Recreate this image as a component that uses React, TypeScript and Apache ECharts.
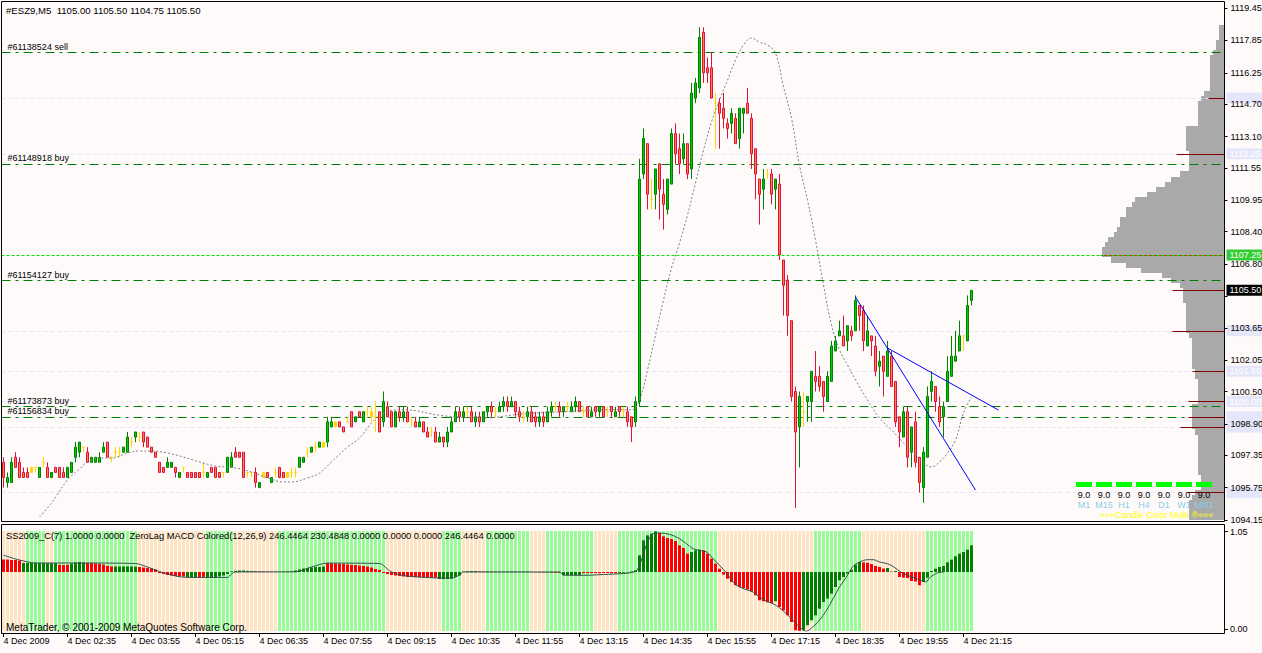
import React, { useEffect, useRef } from "react";
import * as echarts from "echarts";

const BG = "#FFFAFA";
const FONT = '"Liberation Sans", Arial, sans-serif';
const SYMBOL = "#ESZ9,M5";

// ---- M5 candles [open, high, low, close]; bar 0 = 4 Dec 01:15 ----
const CANDLES_A = [
  [1097.00,1097.25,1095.75,1096.25],[1096.00,1096.50,1095.75,1096.25],[1096.00,1097.25,1096.00,1097.00],[1097.25,1097.50,1096.75,1096.75],
  [1097.00,1097.25,1096.25,1096.25],[1096.50,1096.75,1096.25,1096.25],[1096.50,1096.75,1096.25,1096.25],[1096.75,1096.75,1096.50,1096.50],
  [1096.75,1096.75,1096.50,1096.75],[1096.25,1096.75,1096.25,1096.75],[1097.00,1097.25,1096.75,1097.00],[1096.75,1097.00,1096.25,1096.25],
  [1096.25,1096.50,1096.25,1096.50],[1096.75,1096.75,1096.50,1096.50],[1096.75,1096.75,1096.25,1096.25],[1096.50,1096.75,1096.25,1096.25],
  [1096.25,1096.75,1096.25,1096.75],[1096.50,1097.00,1096.50,1097.00],[1097.25,1098.00,1097.00,1097.75],[1097.50,1098.00,1097.25,1098.00],
  [1097.75,1097.75,1097.50,1097.75],[1097.50,1097.75,1097.00,1097.00],[1097.00,1097.25,1097.00,1097.25],[1097.00,1097.25,1097.00,1097.25],
  [1097.00,1097.50,1097.00,1097.25],[1097.50,1098.00,1097.50,1097.75],[1098.00,1098.00,1097.25,1097.25],[1097.25,1097.25,1097.00,1097.25],
  [1097.50,1097.75,1097.25,1097.50],[1097.50,1097.75,1097.25,1097.50],[1097.50,1097.75,1097.50,1097.75],[1097.50,1098.50,1097.50,1098.25],
  [1098.00,1098.25,1097.75,1098.00],[1098.25,1098.50,1098.00,1098.50],[1098.25,1098.50,1098.00,1098.25],[1098.50,1098.50,1097.75,1098.00],
  [1098.25,1098.25,1097.75,1097.75],[1097.75,1097.75,1097.50,1097.50],[1097.50,1097.50,1097.25,1097.25],[1097.00,1097.00,1096.50,1096.50],
  [1096.75,1096.75,1096.50,1096.50],[1096.75,1097.25,1096.75,1097.00],[1096.75,1097.00,1096.75,1097.00],[1096.75,1096.75,1096.25,1096.50],
  [1096.25,1096.50,1096.25,1096.50],[1096.75,1096.75,1096.50,1096.75],[1096.50,1096.50,1096.25,1096.25],[1096.50,1096.50,1096.25,1096.25],
  [1096.50,1096.50,1096.25,1096.25],[1096.50,1096.50,1096.25,1096.25],[1096.50,1097.00,1096.25,1096.50],[1096.25,1096.50,1096.25,1096.50],
  [1096.75,1096.75,1096.50,1096.50],[1096.75,1096.75,1096.25,1096.25],[1096.50,1096.50,1096.25,1096.25],[1096.50,1096.50,1096.25,1096.50],
  [1096.50,1097.25,1096.50,1097.25],[1096.75,1097.50,1096.75,1097.25],[1097.50,1097.75,1097.25,1097.25],[1097.50,1097.50,1097.25,1097.25],
  [1097.50,1097.50,1096.25,1096.25],[1096.50,1096.50,1096.25,1096.50],[1096.50,1096.50,1096.25,1096.50],[1096.50,1096.75,1095.75,1096.00],
  [1095.75,1096.00,1095.75,1096.00],[1096.50,1096.50,1096.25,1096.25],[1096.50,1096.50,1096.25,1096.25],[1096.00,1096.25,1096.00,1096.25],
  [1096.50,1096.75,1096.25,1096.50],[1096.75,1096.75,1096.25,1096.25],[1096.50,1096.50,1096.25,1096.25],[1096.50,1096.50,1096.25,1096.25],
  [1096.50,1096.75,1096.25,1096.50],[1096.50,1096.75,1096.25,1096.50],[1096.75,1097.25,1096.75,1097.25],[1097.00,1097.25,1097.00,1097.25],
  [1097.50,1097.75,1097.25,1097.50],[1097.50,1097.75,1097.50,1097.75],[1097.75,1098.00,1097.50,1097.75],[1097.75,1098.00,1097.75,1098.00],
  [1097.75,1098.00,1097.75,1098.00],[1098.00,1099.25,1097.75,1099.00],[1098.75,1099.25,1098.75,1099.00],[1099.00,1099.00,1098.75,1098.75],
  [1099.00,1099.00,1098.75,1098.75],[1098.75,1098.75,1098.50,1098.50],[1099.00,1099.25,1099.00,1099.00],[1099.50,1099.50,1098.75,1098.75],
  [1099.00,1099.25,1099.00,1099.25],[1099.50,1099.50,1099.25,1099.25],[1099.00,1099.50,1099.00,1099.50],[1099.50,1099.75,1099.25,1099.50],
  [1099.50,1099.75,1099.00,1099.25],[1099.25,1100.00,1098.50,1099.25],[1099.50,1099.50,1098.50,1098.50],[1099.00,1100.50,1098.75,1100.00],
  [1099.75,1100.00,1099.25,1099.25],[1099.50,1099.50,1098.75,1098.75],[1098.75,1099.50,1098.75,1099.50],
];
const CANDLES_B = [
  [1099.50,1099.75,1099.00,1099.25],[1099.25,1099.75,1099.00,1099.50],[1099.50,1099.75,1099.00,1099.00],[1099.00,1099.25,1098.75,1099.00],
  [1099.00,1099.25,1098.75,1098.75],[1098.75,1099.25,1098.75,1099.00],[1099.00,1099.00,1098.50,1098.50],[1098.50,1098.75,1098.25,1098.25],
  [1098.50,1098.75,1098.25,1098.50],[1098.50,1098.75,1098.00,1098.00],[1098.00,1098.50,1098.00,1098.25],[1098.25,1098.25,1097.75,1098.00],
  [1098.00,1098.75,1097.75,1098.50],[1098.50,1099.25,1098.50,1099.00],[1099.00,1099.75,1099.00,1099.50],[1099.50,1099.75,1099.00,1099.25],
  [1099.25,1099.75,1099.00,1099.50],[1099.50,1099.75,1099.25,1099.50],[1099.50,1099.75,1099.00,1099.00],[1099.00,1099.50,1098.75,1099.25],
  [1099.25,1099.50,1098.75,1099.00],[1099.00,1099.50,1099.00,1099.50],[1099.50,1099.75,1099.25,1099.75],[1099.75,1100.00,1099.25,1099.50],
  [1099.50,1099.75,1099.25,1099.50],[1099.50,1100.00,1099.50,1099.75],[1099.75,1100.25,1099.50,1100.00],[1100.00,1100.25,1099.50,1099.75],
  [1099.75,1100.25,1099.75,1100.00],[1100.00,1100.00,1099.25,1099.50],[1099.50,1099.75,1099.00,1099.25],[1099.25,1099.50,1099.00,1099.25],
  [1099.25,1099.75,1099.00,1099.50],[1099.50,1099.75,1099.00,1099.00],[1099.25,1099.50,1098.75,1099.00],[1099.00,1099.50,1098.75,1099.25],
  [1099.25,1099.50,1098.75,1099.00],[1099.00,1099.75,1099.00,1099.50],[1099.50,1100.00,1099.25,1099.75],[1099.75,1100.00,1099.50,1099.75],
  [1099.75,1100.00,1099.25,1099.50],[1099.50,1099.75,1099.25,1099.75],[1099.75,1100.00,1099.50,1099.75],[1099.50,1100.00,1099.50,1099.75],
  [1099.75,1100.25,1099.50,1100.00],[1100.00,1100.00,1099.50,1099.50],[1099.50,1099.75,1099.25,1099.50],[1099.75,1099.75,1099.25,1099.25],
  [1099.25,1099.75,1099.25,1099.50],[1099.75,1099.75,1099.25,1099.50],[1099.50,1099.75,1099.25,1099.75],[1099.75,1099.75,1099.25,1099.25],
  [1099.50,1099.75,1099.25,1099.50],[1099.75,1099.75,1099.25,1099.50],[1099.25,1099.75,1099.25,1099.50],[1099.75,1099.75,1099.25,1099.50],
  [1099.50,1099.75,1099.25,1099.50],[1099.50,1099.75,1098.75,1099.00],[1099.25,1099.25,1098.00,1098.75],[1099.00,1100.25,1098.75,1100.00],
];
const CANDLES_C = [
  [1100.00,1112.00,1099.75,1111.00],[1111.25,1113.50,1111.00,1113.00],[1112.75,1112.75,1109.50,1110.25],[1110.00,1111.00,1109.50,1110.00],
  [1110.25,1111.50,1109.50,1111.50],[1111.75,1111.75,1109.00,1110.50],[1110.25,1111.00,1108.50,1109.75],[1109.50,1111.00,1109.25,1111.00],
  [1110.75,1113.50,1110.75,1113.25],[1113.25,1113.75,1111.75,1112.25],[1112.50,1113.25,1111.25,1111.75],[1112.00,1113.25,1111.75,1112.75],
  [1112.75,1112.75,1111.00,1111.25],[1111.50,1115.75,1111.00,1115.25],[1115.00,1116.00,1114.75,1115.75],[1115.50,1118.50,1115.25,1118.00],
  [1118.25,1118.50,1115.75,1116.25],[1116.50,1117.00,1115.75,1116.25],[1116.50,1117.25,1115.00,1115.00],[1114.75,1115.25,1112.50,1114.75],
  [1114.75,1115.00,1112.50,1114.25],[1114.50,1115.25,1113.50,1114.00],[1113.75,1114.00,1113.00,1113.50],[1113.75,1114.50,1113.25,1114.25],
  [1114.00,1114.25,1112.75,1112.75],[1113.00,1114.50,1112.50,1114.50],[1114.25,1114.50,1113.25,1114.50],[1114.75,1115.50,1114.25,1114.25],
  [1114.00,1114.25,1111.50,1112.25],[1112.50,1112.50,1110.00,1111.25],[1111.00,1111.00,1108.75,1110.25],[1110.50,1111.50,1109.50,1111.00],
  [1111.25,1111.50,1111.00,1111.25],[1111.25,1111.50,1109.75,1110.25],[1110.50,1111.00,1109.50,1111.00],[1110.75,1111.25,1107.00,1107.25],
  [1107.00,1107.00,1104.25,1105.75],[1106.00,1106.25,1103.25,1104.25],[1104.00,1104.00,1100.00,1100.25],[1100.50,1100.75,1094.75,1098.50],
  [1098.75,1100.50,1096.75,1100.25],[1099.50,1100.50,1098.75,1099.50],[1100.00,1100.25,1099.00,1100.25],[1100.00,1101.50,1099.00,1101.50],
  [1101.25,1102.50,1100.50,1101.00],[1101.25,1101.75,1100.50,1100.75],[1101.00,1101.00,1099.50,1100.25],[1100.00,1101.50,1100.00,1101.25],
  [1101.00,1103.00,1101.00,1102.75],[1102.50,1103.25,1102.50,1103.00],[1103.25,1104.00,1103.25,1103.50],[1103.25,1104.25,1102.75,1102.75],
  [1103.00,1103.75,1102.50,1103.75],[1103.50,1103.75,1103.00,1103.25],[1103.50,1105.25,1103.50,1105.00],[1104.75,1104.75,1103.50,1104.25],
  [1104.50,1104.75,1102.50,1103.00],[1102.75,1104.25,1102.75,1103.50],[1103.25,1103.25,1102.25,1103.00],[1102.75,1103.25,1101.25,1101.50],
  [1101.75,1102.50,1100.75,1102.00],[1102.25,1102.25,1100.25,1101.50],[1101.25,1103.00,1101.25,1102.50],[1102.25,1102.50,1100.75,1100.75],
  [1101.00,1101.00,1098.75,1099.00],[1099.25,1099.25,1097.75,1098.50],[1098.25,1099.75,1098.25,1099.50],[1099.50,1099.75,1096.75,1097.25],
  [1097.50,1098.75,1096.75,1098.75],[1099.00,1099.50,1096.75,1097.00],[1097.25,1097.25,1095.50,1096.00],[1095.75,1097.75,1095.00,1097.50],
  [1097.25,1100.75,1097.25,1100.25],[1100.50,1101.50,1100.00,1101.00],[1100.75,1100.75,1099.50,1100.00],[1099.75,1100.25,1098.75,1099.00],
  [1099.25,1100.00,1098.25,1099.75],[1100.00,1102.25,1100.00,1101.50],[1101.25,1103.25,1101.25,1102.25],[1102.00,1103.50,1102.00,1102.25],
  [1102.50,1104.00,1102.50,1103.25],[1103.25,1103.25,1102.50,1103.25],[1103.00,1105.25,1103.00,1104.75],[1105.00,1105.50,1104.75,1105.50],
];
// bars painted yellow (neutral) by the candle colouring indicator
const NEUTRAL_BARS = [7,8,10,20,27,28,29,32,34,45,50,55,61,62,65,68,71,72,73,76,78,80,83,86,91,92,93,102,107,116,123,130,138,141,145,151,155,162,178,191,200,240];

// dashed moving-average curve [bar, price]
const MA_CURVE = [
  [9,1094.30],[12,1094.99],[16,1096.13],[19,1096.67],[21,1097.02],[24,1097.21],[27,1097.21],[31,1097.46],[34,1097.56],[37,1097.56],
  [41,1097.46],[45,1097.26],[49,1097.02],[53,1096.82],[58,1096.72],[62,1096.52],[66,1096.23],[70,1096.03],[72,1096.03],[76,1096.23],
  [79,1096.47],[82,1097.02],[86,1097.76],[89,1098.20],[92,1098.94],[95,1099.44],[100,1099.60],[110,1099.30],[120,1099.20],[130,1099.40],
  [140,1099.50],[150,1099.60],[157,1099.60],[159,1100.08],[161,1101.56],[163,1103.29],[165,1105.02],[167,1106.60],[169,1107.84],[171,1109.22],
  [173,1110.80],[175,1112.43],[177,1113.82],[179,1114.90],[181,1115.89],[183,1116.88],[185,1117.62],[187,1117.97],[189,1117.77],[191,1117.62],
  [193,1117.23],[195,1115.55],[197,1114.01],[199,1111.69],[201,1109.96],[203,1107.98],[205,1105.76],[207,1103.79],[209,1102.55],[211,1101.81],
  [213,1101.07],[216,1100.08],[219,1099.19],[222,1098.60],[225,1097.96],[228,1097.36],[230,1096.97],[232,1096.77],[234,1097.02],[236,1097.46],
  [238,1098.10],[240,1099.44],[242,1100.23],
];
// blue trend lines [bar, price] pairs
const TREND_LINES = [
  [[213, 1105.17], [243, 1095.63]],
  [[221, 1102.65], [248.75, 1099.58]],
];

// order lines
const ORDER_LEVELS = [1117.25, 1111.75, 1106.00, 1099.75, 1099.25];
const ORDER_LABELS = ["#61138524 sell", "#61148918 buy", "#61154127 buy", "#61173873 buy", "#61156834 buy"];
// lavender level lines
const LEVELS = [1115.00, 1112.25, 1103.50, 1101.50, 1100.00, 1099.25, 1098.75, 1095.50];
// dark-red level marks [price, start bar]
const LEVEL_MARKS = [[1115.00, 301.25], [1112.25, 293.25], [1105.50, 292.25], [1103.50, 292.25], [1101.50, 297.25], [1100.00, 296.25], [1099.25, 296.25], [1098.75, 294.25], [1095.50, 296.0]];
const RED_LEVEL = [1107.25, 274.25];
const BID = 1105.50;

// right price axis ticks
const PRICE_TICKS = [1094.15,1095.75,1097.35,1098.90,1100.50,1102.05,1103.65,1105.20,1106.80,1108.40,1109.95,1111.55,1113.10,1114.70,1116.25,1117.85,1119.45];
// time axis
const TIME_TICK_BARS = [0,16,32,48,64,80,96,112,128,144,160,176,192,208,224,240];
const TIME_LABELS = ["4 Dec 2009","4 Dec 02:35","4 Dec 03:55","4 Dec 05:15","4 Dec 06:35","4 Dec 07:55","4 Dec 09:15","4 Dec 10:35","4 Dec 11:55","4 Dec 13:15","4 Dec 14:35","4 Dec 15:55","4 Dec 17:15","4 Dec 18:35","4 Dec 19:55","4 Dec 21:15"];

// volume profile (counts per 0.25 row, from top price downward)
const PROFILE_TOP = 1118.50;
const PROFILE_STEP = 0.25;
const PROFILE_COUNTS = [
  2,2,2,3,3,4,5,5,5,5,5,5,5,7,8,9,9,9,9,9,13,13,13,13,13,12,12,12,12,15,18,20,23,26,30,31,33,33,35,35,36,37,39,40,41,41,38,33,28,21,
  18,15,14,14,14,13,13,13,13,13,13,12,11,11,11,11,11,11,10,10,9,9,9,9,9,11,11,11,11,11,10,9,9,9,9,9,9,9,9,8,8,8,10,11,12,12,12,12,
];

// SS2009_C(7) state runs: [bars, state]  (g = up / pale green, b = down / bisque)
const SS_RUNS = [[6,"b"],[5,"g"],[2,"b"],[21,"g"],[17,"b"],[7,"g"],[11,"b"],[27,"g"],[14,"b"],[5,"g"],[6,"b"],[11,"g"],[4,"b"],[12,"g"],[6,"b"],[25,"g"],[24,"b"],[12,"g"],[16,"b"],[12,"g"]];

// ZeroLag MACD histogram values per bar
const MACD_HIST = [
  1.25,1.25,1.2,1.2,1.15, 0.9,0.9,0.92,0.92,0.9,0.9,0.88,0.88,0.88, 0.72,0.7,0.72, 0.85,0.95,1.0,0.95,
  0.9,0.9,0.85,0.8,0.75,0.62,0.55, 0.55,0.55,0.55,0.56,0.55,0.54, 0.5,0.45,0.4,0.33,0.25,
  -0.1,-0.2,-0.3,-0.35,-0.4,-0.42,-0.45, -0.5,-0.52,-0.5, -0.5,-0.48, -0.55,-0.55,-0.5,-0.45,-0.35,-0.2,
  0.08,0.12,0.15,0.15,0.12,0.1, 0.08,0.06,0.05,0.04,0.02,0.03,0.02,0.02,0.04,0.05,
  0.15,0.25,0.35,0.4,0.45,0.5,0.5,0.55, 0.9,0.88,0.85,0.82,0.8,0.75,0.72,0.7,0.65,0.6,0.55,0.45,0.3,0.2,
  -0.1,-0.2,-0.3,-0.35,-0.4,-0.45,-0.5,-0.5,-0.52,-0.54,-0.54,-0.55,-0.55,-0.56, -0.7,-0.71,-0.7,-0.65,-0.5,-0.35,
  0.05,0.08,0.1,0.1, 0.06,0.05,0.06,0.04,0.05,0.04,0.03,0.05,0.06,0.04,0.03,0.04,0.05,0.03,-0.02,-0.04,-0.05,-0.04,-0.06,-0.08,-0.1,
  -0.33,-0.33,-0.32,-0.3,-0.3, -0.12,-0.12,-0.1,-0.1,-0.12,-0.1,-0.1,-0.12,-0.1, -0.1,-0.08,-0.05,0.05,0.17,
  1.67,3.17,3.67,3.83,4.07, 3.9,3.57,3.4,3.3,3.1,2.67,2.4,1.83, 2.0,2.17,2.23,
  2.17,1.83,1.33,0.83,0.33,-0.27,-0.67,-1.0,-1.33,-1.5,-1.6,-1.73,-1.93,-2.33,-2.83,-2.93,-3.03,-3.1, -2.93,
  -3.5,-3.83,-4.33,-5.0,-5.83,-5.88, -5.83,-5.33,-4.83,-4.33,-3.67,-3.0,-2.67,-2.17,-1.5,-0.83,-0.5,-0.17,0.23,0.73,1.0,
  0.97,0.93,0.8,0.6,0.5,0.35, 0.4, 0.05, 0.1, -0.5,-0.57,-0.6,-0.9,-0.95,-1.33,
  -1.0,-0.57,0.1,0.33,0.5,0.6,0.97,1.23,1.57,1.83,2.0,2.23,2.67,
];
// histogram colour runs: [bars, g|r]
const MACD_COLOR_RUNS = [[5,"r"],[9,"g"],[3,"r"],[4,"g"],[7,"r"],[6,"g"],[12,"r"],[3,"g"],[2,"r"],[12,"g"],[2,"r"],[1,"g"],[2,"r"],[1,"g"],[2,"r"],[10,"g"],[28,"r"],[10,"g"],[2,"r"],[1,"g"],[1,"r"],[1,"g"],[2,"r"],[2,"g"],[2,"r"],[2,"g"],[4,"r"],[1,"g"],[3,"r"],[5,"g"],[9,"r"],[10,"g"],[8,"r"],[3,"g"],[18,"r"],[1,"g"],[6,"r"],[15,"g"],[6,"r"],[1,"g"],[1,"r"],[1,"g"],[6,"r"],[13,"g"]];
// signal line [bar, value]
const MACD_SIGNAL = [
  [0,1.68],[4,1.2],[8,0.9],[20,0.9],[33,0.85],[36,0.5],[39,0.05],[43,-0.4],[46,-0.54],[56,-0.54],[57,-0.2],[58,0],[73,0.02],[77,0.5],[81,0.89],
  [94,0.85],[96,0.3],[97,0],[100,-0.35],[104,-0.5],[109,-0.6],[112,-0.6],[114,-0.3],[115,0],[139,0],[140,-0.3],[145,-0.33],[150,-0.25],[155,-0.15],
  [157,-0.05],[158.4,0.17],[160,1.8],[161,3.0],[162.4,3.83],[164,3.9],[166.5,3.77],[169,3.33],[170.75,2.83],[172.4,2.33],[174,2.17],[175.75,2.0],
  [177.4,1.33],[179,0.67],[180.75,-0.1],[182.4,-1.0],[184,-1.5],[185.75,-1.77],[187.4,-2.0],[189,-2.5],[190.75,-2.93],[192.4,-3.17],[194,-3.57],
  [195.7,-4.17],[197.4,-4.83],[199,-5.5],[200.7,-5.93],[202.3,-5.5],[204,-4.83],[205.75,-3.83],[207.4,-2.67],[209,-1.5],[210.75,-0.5],[212.25,0.5],
  [214,1.0],[216,1.23],[217.5,1.23],[219,1.0],[221,0.83],[222.6,0.5],[224.3,0],[226,-0.33],[227.6,-0.57],[229.3,-0.83],[230.5,-1.0],[231.75,-0.5],
  [233.4,-0.1],[235,0],
];

// multi-timeframe panel
const TF_NAMES = ["M1", "M15", "H1", "H4", "D1", "W1", "MN1"];
const TF_VALUES = ["9.0", "9.0", "9.0", "9.0", "9.0", "9.0", "9.0"];

const SUB_TITLE = "SS2009_C(7) 1.0000 0.0000  ZeroLag MACD Colored(12,26,9) 246.4464 230.4848 0.0000 0.0000 0.0000 246.4464 0.0000";
const COPYRIGHT = "MetaTrader, \u00A9 2001-2009 MetaQuotes Software Corp.";

// ---- axes ranges ----
const X_MIN = -0.5, X_MAX = 305.25;
const Y_MIN = 1094.10, Y_MAX = 1119.75;

const BULL_FILL = "#00CC00", BULL_BORDER = "#008000";
const BEAR_FILL = "#FF8040", BEAR_BORDER = "#E0103C";
const NEUTRAL = "#FFD700";

function expandRuns(runs: any[]) {
  const out: string[] = [];
  runs.forEach(([n, s]) => { for (let i = 0; i < n; i++) out.push(s); });
  return out;
}

// does a tick label sit on top of this level's price box?
const coveredByTick = (p: number) => PRICE_TICKS.some((t) => Math.abs(t - p) < 0.4);

function buildOption() {
  const candles = [...CANDLES_A, ...CANDLES_B, ...CANDLES_C];
  const last = candles[candles.length - 1];
  const candleData = candles.map(([o, h, l, c], i) => {
    const item: any = { value: [i, o, c, l, h] };
    if (NEUTRAL_BARS.includes(i)) item.itemStyle = { color: NEUTRAL, color0: NEUTRAL, borderColor: NEUTRAL, borderColor0: NEUTRAL };
    return item;
  });
  const ssStates = expandRuns(SS_RUNS);
  const ssData = ssStates.map((s, i) => ({ value: [i, 1], itemStyle: { color: s === "g" ? "#98FB98" : "#FFE4C4" } }));
  const macdColors = expandRuns(MACD_COLOR_RUNS);
  const macdData = MACD_HIST.map((v, i) => ({ value: [i, v], itemStyle: { color: macdColors[i] === "g" ? "#008000" : "#FF0000" } }));
  const profileData = PROFILE_COUNTS.map((c, i) => [c, PROFILE_TOP - i * PROFILE_STEP]);
  const labelTicks = PRICE_TICKS.filter((t) => Math.abs(t - BID) > 0.35);

  const lbl = { fontSize: 9, fontFamily: FONT };
  const boxLabel = (text: string, bg: string) => ({
    show: true, position: "end", formatter: text, color: "#FFFFFF", backgroundColor: bg,
    padding: [1, 3, 1, 3], distance: 2, ...lbl,
  });
  const emptyBox = (bg: string) => ({
    show: true, position: "end", formatter: "\u00A0", width: 31, color: bg, backgroundColor: bg,
    padding: [1, 3, 1, 3], distance: 2, ...lbl,
  });

  const baseMarks: any[] = [];
  LEVELS.forEach((p) => baseMarks.push({
    yAxis: p, lineStyle: { color: "#E6E6FA", type: [4, 3], width: 1 },
    label: coveredByTick(p) ? emptyBox("#E6E6FA") : boxLabel(p.toFixed(2), "#E6E6FA"),
  }));
  ORDER_LEVELS.forEach((p, i) => baseMarks.push({
    yAxis: p, lineStyle: { color: "#008000", type: [9, 5, 3, 5], width: 1 },
    label: { show: true, position: "insideStartTop", formatter: ORDER_LABELS[i], color: "#000", distance: [6, 1], ...lbl },
  }));
  LEVEL_MARKS.forEach(([p, s]) => baseMarks.push([
    { coord: [s, p], lineStyle: { color: "#800000", type: "solid", width: 1 }, label: { show: false } },
    { coord: [X_MAX, p] },
  ]));
  baseMarks.push([
    { coord: [RED_LEVEL[1], RED_LEVEL[0]], lineStyle: { color: "#FF0000", type: "solid", width: 1 }, label: { show: false } },
    { coord: [X_MAX, RED_LEVEL[0]] },
  ]);

  const topMarks: any[] = [
    { yAxis: RED_LEVEL[0], lineStyle: { color: "#00E000", type: [3, 2], width: 1 }, label: boxLabel(RED_LEVEL[0].toFixed(2), "#32CD32") },
    { yAxis: BID, lineStyle: { color: "rgba(0,0,0,0)", width: 1, type: "solid" }, label: boxLabel(BID.toFixed(2), "#000000") },
  ];

  const txt = (x: number, y: number, text: string, fill = "#000", align = "left", size = 9) => ({
    type: "text", x, y, silent: true, z: 100,
    style: { text, fill, font: `${size}px ${FONT}`, align, verticalAlign: "middle" },
  });
  const graphics: any[] = [
    { type: "rect", silent: true, z: 100, shape: { x: 1.5, y: 1.5, width: 1223, height: 520 }, style: { fill: "none", stroke: "#000", lineWidth: 1 } },
    { type: "rect", silent: true, z: 100, shape: { x: 1.5, y: 524.5, width: 1223, height: 109 }, style: { fill: "none", stroke: "#000", lineWidth: 1 } },
    { type: "line", silent: true, z: 100, shape: { x1: 1225, y1: 531.5, x2: 1228, y2: 531.5 }, style: { stroke: "#000", lineWidth: 1 } },
    { type: "line", silent: true, z: 100, shape: { x1: 1225, y1: 629.5, x2: 1228, y2: 629.5 }, style: { stroke: "#000", lineWidth: 1 } },
    txt(6, 10, `${SYMBOL}  ${last[0].toFixed(2)} ${last[1].toFixed(2)} ${last[2].toFixed(2)} ${last[3].toFixed(2)}`, "#000", "left", 9.6),
    txt(6, 536, SUB_TITLE, "#000", "left", 9.3),
    txt(6, 627, COPYRIGHT, "#000", "left", 10),
    txt(1230, 532, "1.05"),
    txt(1230, 629, "0.00"),
  ];
  TF_NAMES.forEach((name, i) => {
    const x0 = 1076 + i * 20;
    graphics.push({ type: "rect", silent: true, z: 100, shape: { x: x0, y: 482, width: 16, height: 5 }, style: { fill: "#00FF00" } });
    graphics.push(txt(x0 + 8, 495, TF_VALUES[i], "#000", "center"));
    graphics.push(txt(x0 + 8, 505, name, "#87CEEB", "center"));
  });
  graphics.push(txt(1100, 515, "\u00BB\u00BB\u00BBCandle Color Multi \u00AE\u00AB\u00AB\u00AB", "#FFFF00"));

  const noAxis = { axisLine: { show: false, onZero: false }, axisTick: { show: false }, axisLabel: { show: false }, splitLine: { show: false } };

  return {
    animation: false,
    backgroundColor: BG,
    grid: [
      { left: 1.5, top: 2, width: 1223, height: 519, show: false, containLabel: false, outerBoundsMode: "none" },
      { left: 1.5, top: 531, width: 1223, height: 100, show: false, containLabel: false, outerBoundsMode: "none" },
      { left: 1074.5, top: 2, width: 150, height: 519, show: false, containLabel: false, outerBoundsMode: "none" },
    ],
    xAxis: [
      { type: "value", gridIndex: 0, min: X_MIN, max: X_MAX, ...noAxis },
      {
        type: "value", gridIndex: 1, min: X_MIN, max: X_MAX, position: "bottom", offset: 2,
        axisLine: { show: false, onZero: false },
        axisTick: { show: true, customValues: TIME_TICK_BARS, length: 4, lineStyle: { color: "#000", width: 1 } },
        axisLabel: {
          show: true, customValues: TIME_TICK_BARS, align: "left", margin: 3, color: "#000", ...lbl,
          formatter: (v: number) => TIME_LABELS[TIME_TICK_BARS.indexOf(Math.round(v))] || "",
        },
        splitLine: { show: false },
      },
      { type: "value", gridIndex: 2, min: 0, max: 50, inverse: true, ...noAxis },
    ],
    yAxis: [
      {
        type: "value", gridIndex: 0, min: Y_MIN, max: Y_MAX, position: "right", z: 5,
        axisLine: { show: false, onZero: false },
        axisTick: { show: true, customValues: PRICE_TICKS, length: 3, lineStyle: { color: "#000", width: 1 } },
        axisLabel: { show: true, customValues: labelTicks, margin: 6, color: "#000", ...lbl, formatter: (v: number) => v.toFixed(2) },
        splitLine: { show: false },
      },
      { type: "value", gridIndex: 1, min: 0, max: 1, ...noAxis },
      { type: "value", gridIndex: 1, min: -5.9, max: 4.1, ...noAxis },
      { type: "value", gridIndex: 2, min: Y_MIN, max: Y_MAX, ...noAxis },
    ],
    graphic: { elements: graphics },
    series: [
      {
        type: "custom", name: "profile", xAxisIndex: 2, yAxisIndex: 3, z: 1, silent: true, clip: false,
        data: profileData,
        renderItem: (params: any, api: any) => {
          const c = api.value(0), p = api.value(1);
          const a = api.coord([0, p + PROFILE_STEP / 2]);
          const b = api.coord([c, p - PROFILE_STEP / 2]);
          const x0 = Math.round(b[0]), x1 = Math.round(a[0]);
          const y0 = Math.round(a[1]), y1 = Math.round(b[1]);
          return { type: "rect", shape: { x: x0, y: y0, width: x1 - x0, height: y1 - y0 }, style: { fill: "#A9A9A9" } };
        },
      },
      {
        type: "candlestick", name: SYMBOL, xAxisIndex: 0, yAxisIndex: 0, z: 3, silent: true, clip: false,
        barWidth: 2,
        encode: { x: 0, y: [1, 2, 3, 4] },
        itemStyle: { color: BULL_FILL, color0: BEAR_FILL, borderColor: BULL_BORDER, borderColor0: BEAR_BORDER, borderWidth: 1 },
        data: candleData,
        markLine: { silent: true, animation: false, symbol: ["none", "none"], z: 2, data: baseMarks },
      },
      {
        type: "line", name: "MA", xAxisIndex: 0, yAxisIndex: 0, z: 4, silent: true, clip: false,
        data: MA_CURVE, smooth: 0.4, showSymbol: false, symbol: "none",
        lineStyle: { color: "#808080", width: 1, type: [2, 2] },
        markLine: { silent: true, animation: false, symbol: ["none", "none"], z: 6, data: topMarks },
      },
      ...TREND_LINES.map((seg, i) => ({
        type: "line", name: "trend" + i, xAxisIndex: 0, yAxisIndex: 0, z: 4, silent: true, clip: false,
        data: seg, showSymbol: false, symbol: "none", lineStyle: { color: "#0000FF", width: 1 },
      })),
      {
        type: "bar", name: "SS2009", xAxisIndex: 1, yAxisIndex: 1, z: 1, silent: true,
        barWidth: 3, barGap: "-100%", data: ssData,
      },
      {
        type: "bar", name: "MACD", xAxisIndex: 1, yAxisIndex: 2, z: 2, silent: true,
        barWidth: 3, barGap: "-100%", data: macdData,
      },
      {
        type: "line", name: "signal", xAxisIndex: 1, yAxisIndex: 2, z: 3, silent: true,
        data: MACD_SIGNAL, smooth: 0.3, showSymbol: false, symbol: "none",
        lineStyle: { color: "#2F4F4F", width: 1 },
      },
    ],
  };
}

export default function App() {
  const ref = useRef<HTMLDivElement>(null);
  useEffect(() => {
    document.body.style.margin = "0";
    document.body.style.background = BG;
    const chart = echarts.init(ref.current as HTMLDivElement, undefined, { renderer: "svg" });
    chart.setOption(buildOption() as any);
    return () => chart.dispose();
  }, []);
  return <div ref={ref} style={{ width: 1262, height: 653, background: BG }} />;
}
